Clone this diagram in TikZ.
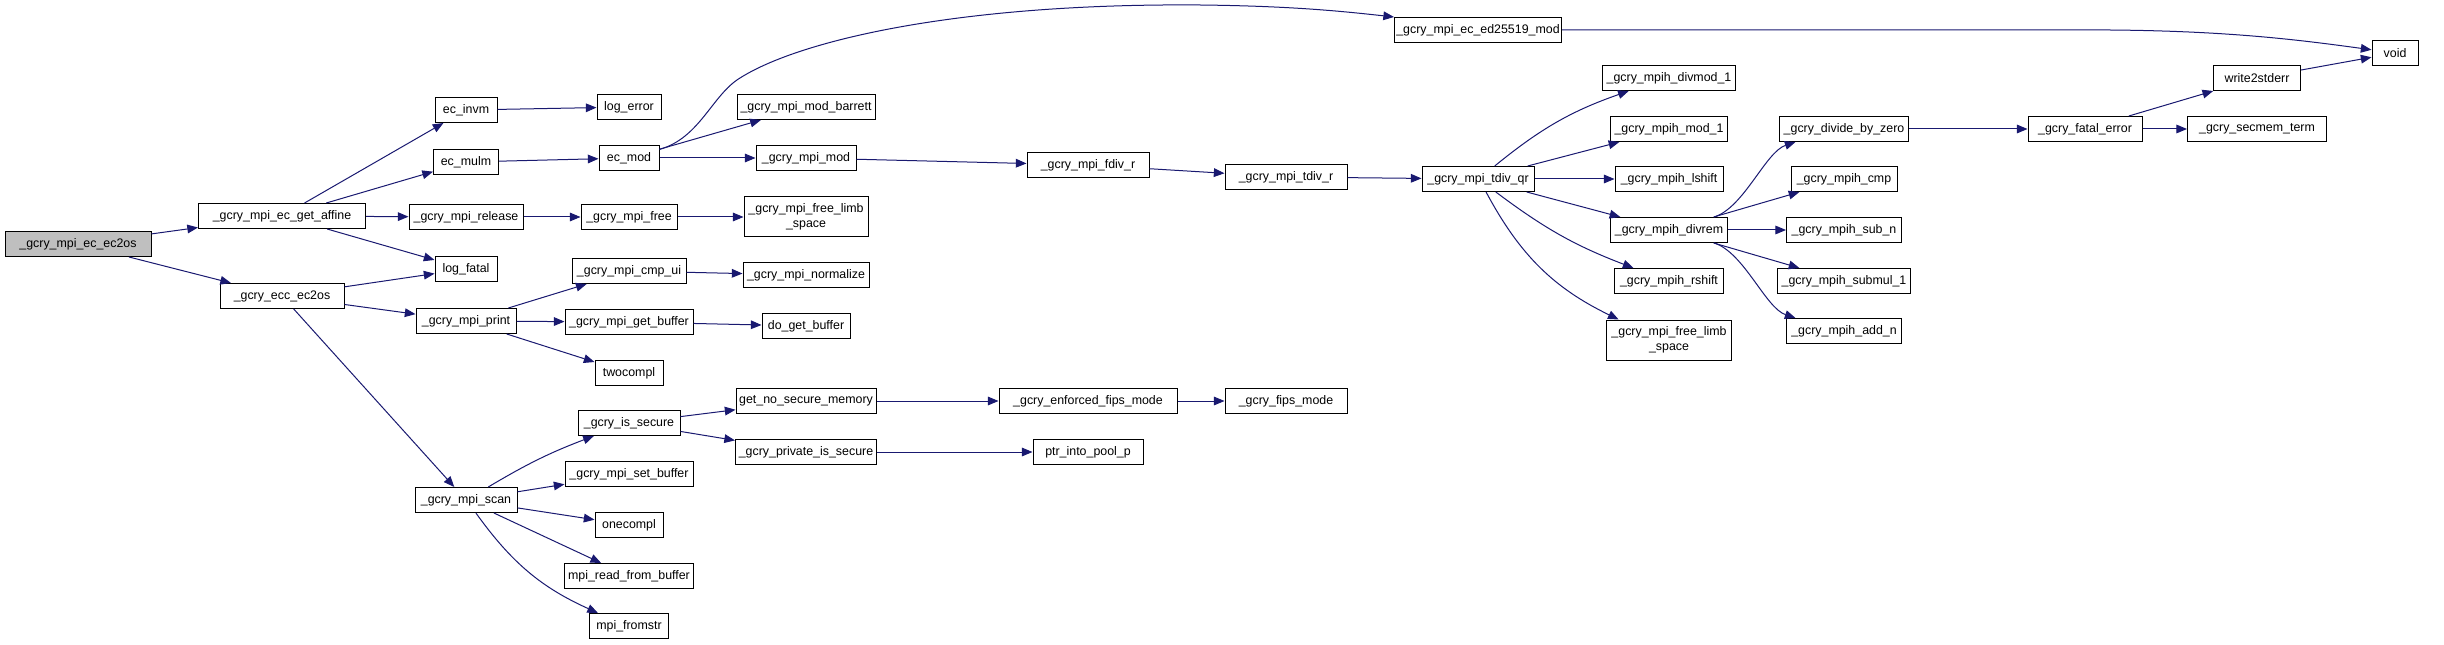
\documentclass[tikz,border=0pt]{standalone}
\usepackage{fontspec}
\setmainfont{Liberation Sans}
\usetikzlibrary{arrows.meta}
\definecolor{edgeblue}{HTML}{191970}
\definecolor{rootgray}{HTML}{BFBFBF}
\begin{document}
\begin{tikzpicture}[x=0.75pt, y=-0.75pt,
  fn/.style={draw=black, line width=0.75pt, fill=white, inner sep=1pt,
    minimum height=18.75pt, align=center, font=\fontsize{9.3}{11.25}\selectfont},
  bw/.style={minimum width=#1*0.75pt},
  call/.style={-{Triangle[length=8pt,width=6.5pt]}, draw=edgeblue, line width=0.75pt}]
  \useasboundingbox (0,0) rectangle (2444,645);
  \node[fn, bw=146, fill=rootgray] (ec2os) at (78,244) {\_gcry\_mpi\_ec\_ec2os};
  \node[fn, bw=167] (affine) at (282,216) {\_gcry\_mpi\_ec\_get\_affine};
  \node[fn, bw=124] (ecc) at (282,296) {\_gcry\_ecc\_ec2os};
  \node[fn, bw=62] (invm) at (466,110) {ec\_invm};
  \node[fn, bw=65] (mulm) at (466,162) {ec\_mulm};
  \node[fn, bw=114] (release) at (466,217) {\_gcry\_mpi\_release};
  \node[fn, bw=62] (logfatal) at (466,269) {log\_fatal};
  \node[fn, bw=100] (print) at (466,321) {\_gcry\_mpi\_print};
  \node[fn, bw=102] (scan) at (466,500) {\_gcry\_mpi\_scan};
  \node[fn, bw=64] (logerror) at (629,107) {log\_error};
  \node[fn, bw=60] (ecmod) at (629,158) {ec\_mod};
  \node[fn, bw=96] (mpifree) at (629,217) {\_gcry\_mpi\_free};
  \node[fn, bw=114] (cmpui) at (629,271) {\_gcry\_mpi\_cmp\_ui};
  \node[fn, bw=128] (getbuf) at (629,322) {\_gcry\_mpi\_get\_buffer};
  \node[fn, bw=68] (twoc) at (629,373) {twocompl};
  \node[fn, bw=102] (issec) at (629,423) {\_gcry\_is\_secure};
  \node[fn, bw=128] (setbuf) at (629,474) {\_gcry\_mpi\_set\_buffer};
  \node[fn, bw=68] (onec) at (629,525) {onecompl};
  \node[fn, bw=129] (readbuf) at (629,576) {mpi\_read\_from\_buffer};
  \node[fn, bw=79] (fromstr) at (629,626) {mpi\_fromstr};
  \node[fn, bw=138] (barrett) at (806,107) {\_gcry\_mpi\_mod\_barrett};
  \node[fn, bw=100] (mpimod) at (806,158) {\_gcry\_mpi\_mod};
  \node[fn, bw=124, minimum height=30pt] (limba) at (806,217) {\_gcry\_mpi\_free\_limb\\\_space};
  \node[fn, bw=126] (normalize) at (806,275) {\_gcry\_mpi\_normalize};
  \node[fn, bw=88] (dogetbuf) at (806,326) {do\_get\_buffer};
  \node[fn, bw=140] (nosecmem) at (806,401) {get\_no\_secure\_memory};
  \node[fn, bw=141] (privsec) at (806,452) {\_gcry\_private\_is\_secure};
  \node[fn, bw=122] (fdivr) at (1088,165) {\_gcry\_mpi\_fdiv\_r};
  \node[fn, bw=178] (enforced) at (1088,401) {\_gcry\_enforced\_fips\_mode};
  \node[fn, bw=110] (ptrpool) at (1088,452) {ptr\_into\_pool\_p};
  \node[fn, bw=122] (tdivr) at (1286,177) {\_gcry\_mpi\_tdiv\_r};
  \node[fn, bw=122] (fips) at (1286,401) {\_gcry\_fips\_mode};
  \node[fn, bw=167] (ed25519) at (1478,30) {\_gcry\_mpi\_ec\_ed25519\_mod};
  \node[fn, bw=112] (tdivqr) at (1478,179) {\_gcry\_mpi\_tdiv\_qr};
  \node[fn, bw=133] (divmod) at (1669,78) {\_gcry\_mpih\_divmod\_1};
  \node[fn, bw=117] (modone) at (1669,129) {\_gcry\_mpih\_mod\_1};
  \node[fn, bw=108] (lshift) at (1669,179) {\_gcry\_mpih\_lshift};
  \node[fn, bw=117] (divrem) at (1669,230) {\_gcry\_mpih\_divrem};
  \node[fn, bw=109] (rshift) at (1669,281) {\_gcry\_mpih\_rshift};
  \node[fn, bw=125, minimum height=30pt] (limbb) at (1669,340) {\_gcry\_mpi\_free\_limb\\\_space};
  \node[fn, bw=129] (divzero) at (1844,129) {\_gcry\_divide\_by\_zero};
  \node[fn, bw=106] (mpihcmp) at (1844,179) {\_gcry\_mpih\_cmp};
  \node[fn, bw=115] (subn) at (1844,230) {\_gcry\_mpih\_sub\_n};
  \node[fn, bw=133] (submul) at (1844,281) {\_gcry\_mpih\_submul\_1};
  \node[fn, bw=115] (addn) at (1844,331) {\_gcry\_mpih\_add\_n};
  \node[fn, bw=114] (fatal) at (2085,129) {\_gcry\_fatal\_error};
  \node[fn, bw=87] (wstderr) at (2257,78) {write2stderr};
  \node[fn, bw=139] (secterm) at (2257,129) {\_gcry\_secmem\_term};
  \node[fn, bw=46] (void) at (2395,53) {void};
  \draw[call] (ec2os) -- (affine);
  \draw[call] (ec2os) -- (ecc);
  \draw[call] (affine) -- (invm);
  \draw[call] (affine) -- (mulm);
  \draw[call] (affine) -- (release);
  \draw[call] (affine) -- (logfatal);
  \draw[call] (ecc) -- (logfatal);
  \draw[call] (ecc) -- (print);
  \draw[call] (ecc) -- (scan);
  \draw[call] (invm) -- (logerror);
  \draw[call] (mulm) -- (ecmod);
  \draw[call] (release) -- (mpifree);
  \draw[call] (mpifree) -- (limba);
  \draw[call] (print) -- (cmpui);
  \draw[call] (print) -- (getbuf);
  \draw[call] (print) -- (twoc);
  \draw[call] (cmpui) -- (normalize);
  \draw[call] (getbuf) -- (dogetbuf);
  \draw[call] (scan) to[bend left=5] (issec);
  \draw[call] (scan) -- (setbuf);
  \draw[call] (scan) -- (onec);
  \draw[call] (scan) -- (readbuf);
  \draw[call] (scan) to[bend right=15] (fromstr);
  \draw[call] (issec) -- (nosecmem);
  \draw[call] (issec) -- (privsec);
  \draw[call] (nosecmem) -- (enforced);
  \draw[call] (enforced) -- (fips);
  \draw[call] (privsec) -- (ptrpool);
  \draw[call] (ecmod) .. controls (700,138) and (712,95) .. (740,78) .. controls (800,40) and (960,3) .. (1200,5) .. controls (1290,6) and (1340,11) .. (ed25519.north west);
  \draw[call] (ecmod) -- (barrett);
  \draw[call] (ecmod) -- (mpimod);
  \draw[call] (mpimod) -- (fdivr);
  \draw[call] (fdivr) -- (tdivr);
  \draw[call] (tdivr) -- (tdivqr);
  \draw[call] (ed25519.east) -- (2110,30) .. controls (2230,31) and (2300,40) .. (void);
  \draw[call] (tdivqr) to[bend left=10] (divmod);
  \draw[call] (tdivqr) -- (modone);
  \draw[call] (tdivqr) -- (lshift);
  \draw[call] (tdivqr) -- (divrem);
  \draw[call] (tdivqr) to[bend right=8] (rshift);
  \draw[call] (tdivqr) to[bend right=18] (limbb);
  \draw[call] (divrem.16) .. controls +(30,-10) and +(-30,10) .. (divzero.195);
  \draw[call] (divrem) -- (mpihcmp);
  \draw[call] (divrem) -- (subn);
  \draw[call] (divrem) -- (submul);
  \draw[call] (divrem.-16) .. controls +(30,10) and +(-30,-10) .. (addn.165);
  \draw[call] (divzero) -- (fatal);
  \draw[call] (fatal) -- (wstderr);
  \draw[call] (fatal) -- (secterm);
  \draw[call] (wstderr) -- (void);
\end{tikzpicture}
\end{document}
